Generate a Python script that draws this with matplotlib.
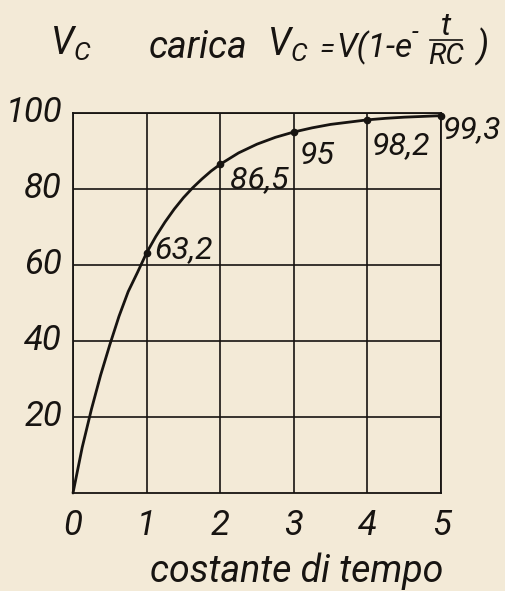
import matplotlib
matplotlib.use("Agg")
import matplotlib.pyplot as plt
import matplotlib.transforms as mtransforms
from matplotlib.lines import Line2D

# Capacitor charging curve, V_C as percent of V versus number of time constants
tau_curve = [0, 0.125, 0.25, 0.375, 0.5, 0.625, 0.75, 0.875, 1.0,
             1.125, 1.25, 1.375, 1.5, 1.625, 1.75, 1.875, 2.0,
             2.25, 2.5, 2.75, 3.0, 3.25, 3.5, 3.75, 4.0, 4.25, 4.5, 4.75, 5.0]
vc_curve = [0, 12, 22, 31, 39, 46.5, 53, 58, 63.2,
            67.5, 71.3, 74.7, 77.7, 80.3, 82.6, 84.7, 86.5,
            89.5, 91.8, 93.6, 95, 96.1, 97, 97.6, 98.2, 98.6, 98.9, 99.1, 99.3]

tau_marked = [1, 2, 3, 4, 5]
vc_marked = [63.2, 86.5, 95, 98.2, 99.3]

x_ticks = [0, 1, 2, 3, 4, 5]
y_ticks = [20, 40, 60, 80, 100]

W, H = 505, 591
BG = "#f3ead7"
INK = "#171411"

plt.rcParams["font.family"] = ["Roboto", "DejaVu Sans"]
plt.rcParams["font.style"] = "italic"
plt.rcParams["mathtext.fontset"] = "custom"
plt.rcParams["mathtext.it"] = "Roboto:italic"
plt.rcParams["mathtext.rm"] = "Roboto:italic"

fig = plt.figure(figsize=(W / 100, H / 100), dpi=100, facecolor=BG)
ax = fig.add_axes([73 / W, 1 - 493 / H, (441 - 73) / W, (493 - 113) / H])
ax.set_facecolor(BG)

ax.set_xlim(0, 5)
ax.set_ylim(0, 100)
ax.set_xticks(x_ticks)
ax.set_yticks(y_ticks)
ax.set_xticklabels([str(v) for v in x_ticks])
ax.set_yticklabels([str(v) for v in y_ticks])
ax.tick_params(length=0, labelsize=25, colors=INK)
ax.tick_params(axis="x", pad=11)
ax.tick_params(axis="y", pad=8)
ax.grid(True, color=INK, linewidth=1.2)
ax.set_axisbelow(True)
for sp in ax.spines.values():
    sp.set_color(INK)
    sp.set_linewidth(1.3)

# lift the y labels a little above their grid lines
lift = mtransforms.ScaledTranslation(0, 4 / 100, fig.dpi_scale_trans)
for lab in ax.get_yticklabels():
    lab.set_transform(lab.get_transform() + lift)

ax.plot(tau_curve, vc_curve, color=INK, linewidth=2.0, clip_on=False,
        solid_capstyle="round")
ax.plot(tau_marked, vc_marked, "o", color=INK, markersize=4.5, clip_on=False)

offsets = [(8, 3), (10, -15), (6, -23), (4, -26), (2, -14)]
for t, v, (dx, dy) in zip(tau_marked, vc_marked, offsets):
    ax.annotate(f"{v:g}".replace(".", ","), (t, v), xytext=(dx, dy),
                textcoords="offset pixels", ha="left", va="center",
                fontsize=23, color=INK, annotation_clip=False)


def put(x, y, s, size, ha="left", va="baseline"):
    fig.text(x / W, 1 - y / H, s, fontsize=size, ha=ha, va=va, color=INK,
             style="italic")


# axis names
put(50, 55, r"$V_C$", 27)
put(297, 582, "costante di tempo", 27, ha="center")

# formula heading
put(149, 58, "carica", 27)
put(267, 56, r"$V_C$", 27)
put(319, 57, "=", 20)
put(336, 57, "V(1-e", 24)
put(412, 40, "-", 18)
put(446, 35, "t", 23, ha="center")
fig.add_artist(Line2D([430 / W, 462 / W], [1 - 40 / H, 1 - 40 / H],
                      color=INK, linewidth=1.2))
put(446, 64, "RC", 21, ha="center")
put(477, 57, ")", 26)

fig.savefig("out.png", dpi=100, facecolor=BG)
